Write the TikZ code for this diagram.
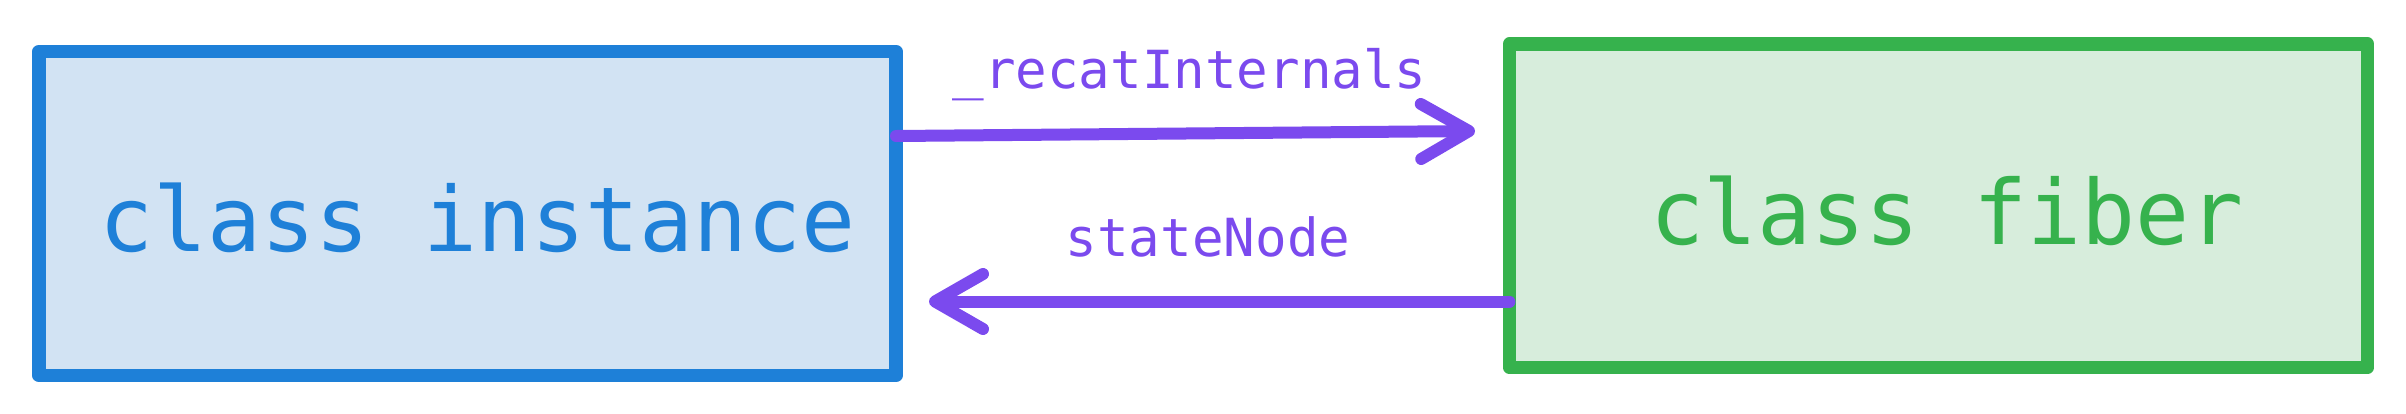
\documentclass[tikz,border=0pt]{standalone}
\usepackage{fontspec}
\setmonofont{DejaVu Sans Mono}
\usetikzlibrary{arrows.meta}
\definecolor{bblue}{HTML}{1E80D8}
\definecolor{bbluefill}{HTML}{D2E3F3}
\definecolor{ggreen}{HTML}{36B24D}
\definecolor{ggreenfill}{HTML}{D7EDDC}
\definecolor{ppurple}{HTML}{7B4AEE}
\begin{document}
\begin{tikzpicture}[x=1pt,y=-1pt,
  box/.style={draw, line width=13.5pt, line join=round, rectangle, inner sep=0pt, outer sep=0pt},
  bigtext/.style={font=\ttfamily\fontsize{89.7}{100}\selectfont, anchor=base, inner sep=0pt},
  smalltext/.style={font=\ttfamily\fontsize{52.5}{60}\selectfont, text=ppurple, anchor=base, inner sep=0pt},
  conn/.style={draw=ppurple, line width=12pt, line cap=round, -{Straight Barb[length=48pt,width=55pt,round]}}
]
\useasboundingbox (0,0) rectangle (2406,413);
\node[box, draw=bblue, fill=bbluefill, minimum width=857pt, minimum height=324pt] (inst) at (467.5,213.5) {};
\node[box, draw=ggreen, fill=ggreenfill, minimum width=858pt, minimum height=323.5pt] (fib) at (1938.5,205.75) {};
\node[bigtext, text=bblue] (instlbl) at (478,251) {class instance};
\node[bigtext, text=ggreen] (fiblbl) at (1947,244) {class fiber};
\coordinate (a1s) at ([yshift=77.5pt]inst.east);
\coordinate (a1e) at (1475,131);
\coordinate (a2s) at ([yshift=-95.75pt]fib.west);
\coordinate (a2e) at (929,301.5);
\draw[conn] (a1s) -- (a1e);
\draw[conn] (a2s) -- (a2e);
\node[smalltext] (l1) at (1189.5,88) {\_recatInternals};
\node[smalltext] (l2) at (1208,256) {stateNode};
\end{tikzpicture}
\end{document}
